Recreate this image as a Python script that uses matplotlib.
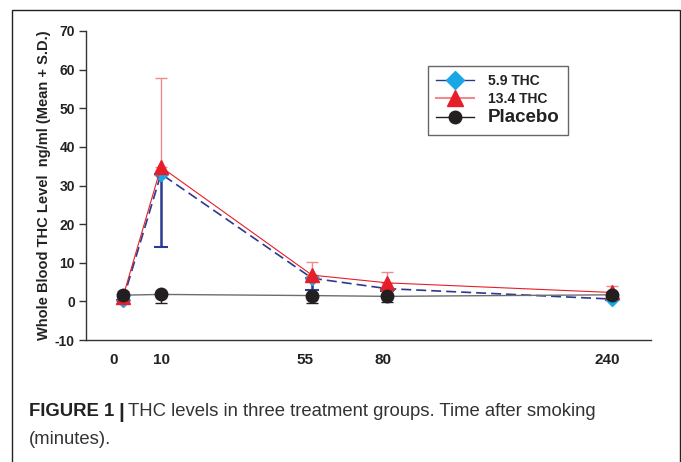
"""THC levels in three treatment groups - whole blood, mean + S.D."""
import matplotlib

matplotlib.use("Agg")

import matplotlib.pyplot as plt
from matplotlib.lines import Line2D
from matplotlib.patches import Rectangle

plt.rcParams["font.family"] = ["Liberation Sans", "DejaVu Sans"]
plt.rcParams["axes.unicode_minus"] = False

# time points (minutes after smoking) and where each one sits on the drawn axis
time_labels = ["0", "10", "55", "80", "240"]
point_pos = [37, 75, 226, 301, 526]
label_pos = [28, 75, 219, 297, 521]

thc_59 = [0.4, 33.0, 6.0, 3.3, 0.6]
thc_59_sd = [0.0, 18.8, 3.0, 0.5, 0.3]

thc_134 = [1.2, 34.8, 6.8, 4.8, 2.3]
thc_134_sd = [1.4, 23.0, 3.4, 2.7, 1.6]

placebo = [1.6, 1.8, 1.5, 1.3, 1.7]
placebo_sd = [1.0, 2.2, 2.0, 1.4, 0.8]

NAVY = "#2b3990"
CYAN = "#1aa7e6"
RED = "#e61e2a"
PINK = "#f08a8c"
BLACK = "#231f20"

fig = plt.figure(figsize=(6.81, 4.62), dpi=100)
fig.patches.append(Rectangle((12 / 681, -0.05), 668 / 681, 1 - 10 / 462 + 0.05,
                             transform=fig.transFigure, fill=False,
                             edgecolor="#222222", linewidth=1.0))

ax = fig.add_axes([86 / 681, 1 - 340 / 462, 565 / 681, 309 / 462])

# 5.9 THC: dashed navy line, error bar pointing down
ax.errorbar(point_pos, thc_59, yerr=[thc_59_sd, [0] * 5], fmt="none",
            ecolor=NAVY, elinewidth=1.8, capsize=5, capthick=1.5, zorder=2)
ax.plot(point_pos, thc_59, color=NAVY, linestyle=(0, (6, 3)), linewidth=1.2,
        marker="D", markersize=7.5, markerfacecolor=CYAN, markeredgecolor=CYAN,
        zorder=3)

# 13.4 THC: thin red line, error bar pointing up
ax.errorbar(point_pos, thc_134, yerr=[[0] * 5, thc_134_sd], fmt="none",
            ecolor=PINK, elinewidth=1.0, capsize=4, capthick=1.0, zorder=4)
ax.plot(point_pos, thc_134, color=RED, linewidth=0.8, marker="^",
        markersize=10, markerfacecolor=RED, markeredgecolor=RED, zorder=5)

# placebo
ax.errorbar(point_pos, placebo, yerr=[placebo_sd, [0] * 5], fmt="none",
            ecolor=BLACK, elinewidth=1.0, capsize=4, capthick=1.0, zorder=6)
ax.plot(point_pos, placebo, color="#6d6d6d", linewidth=1.0, marker="o",
        markersize=9, markerfacecolor=BLACK, markeredgecolor=BLACK, zorder=7)

ax.set_xlim(0, 565)
ax.set_ylim(-10, 70)
ax.set_yticks(range(-10, 71, 10))
ax.set_xticks(label_pos)
ax.set_xticklabels(time_labels)
ax.tick_params(axis="x", length=0, pad=9)
ax.tick_params(axis="y", length=5, width=1.0, color="#333333", pad=3)
for lab in ax.get_xticklabels():
    lab.set_fontsize(11)
    lab.set_fontweight("bold")
    lab.set_color("#222222")
for lab in ax.get_yticklabels():
    lab.set_fontsize(10)
    lab.set_fontweight("bold")
    lab.set_color("#222222")

for side in ("top", "right"):
    ax.spines[side].set_visible(False)
for side in ("left", "bottom"):
    ax.spines[side].set_color("#333333")
    ax.spines[side].set_linewidth(1.0)

ax.set_ylabel("Whole Blood THC Level  ng/ml (Mean + S.D.)", fontsize=10.5,
              fontweight="bold", color="#222222", labelpad=3)

handles = [
    Line2D([], [], color=NAVY, linewidth=1.0, marker="D", markersize=9,
           markerfacecolor=CYAN, markeredgecolor=CYAN),
    Line2D([], [], color=PINK, linewidth=1.5, marker="^", markersize=11,
           markerfacecolor=RED, markeredgecolor=RED),
    Line2D([], [], color=BLACK, linewidth=1.0, marker="o", markersize=9,
           markerfacecolor=BLACK, markeredgecolor=BLACK),
]
leg = ax.legend(handles, ["5.9 THC", "13.4 THC", "Placebo"],
                loc="upper left", bbox_to_anchor=(428 / 681, 1 - 66 / 462),
                bbox_transform=fig.transFigure, borderaxespad=0,
                frameon=True, fancybox=False,
                edgecolor="#666666", framealpha=1, borderpad=0.6,
                handlelength=2.7, handletextpad=1.0, labelspacing=0.25,
                prop={"weight": "bold", "size": 10})
leg.get_frame().set_linewidth(1.0)
leg.get_texts()[2].set_fontsize(13.5)
for t in leg.get_texts():
    t.set_color("#222222")

cap_y1 = 1 - 412 / 462
cap_y2 = 1 - 440 / 462
t1 = fig.text(29 / 681, cap_y1, "FIGURE 1", fontsize=13.3, fontweight="bold",
              color="#222222", va="center")
fig.canvas.draw()
bb = t1.get_window_extent()
x_next = bb.x1 / fig.bbox.width
t2 = fig.text(x_next + 0.006, cap_y1, "|", fontsize=15, fontweight="bold",
              color="#222222", va="center")
bb2 = t2.get_window_extent()
fig.text(bb2.x1 / fig.bbox.width + 0.006, cap_y1,
         "THC levels in three treatment groups. Time after smoking",
         fontsize=13.3, color="#333333", va="center")
fig.text(29 / 681, cap_y2, "(minutes).", fontsize=13.3, color="#333333",
         va="center")

fig.savefig("out.png", dpi=100)
